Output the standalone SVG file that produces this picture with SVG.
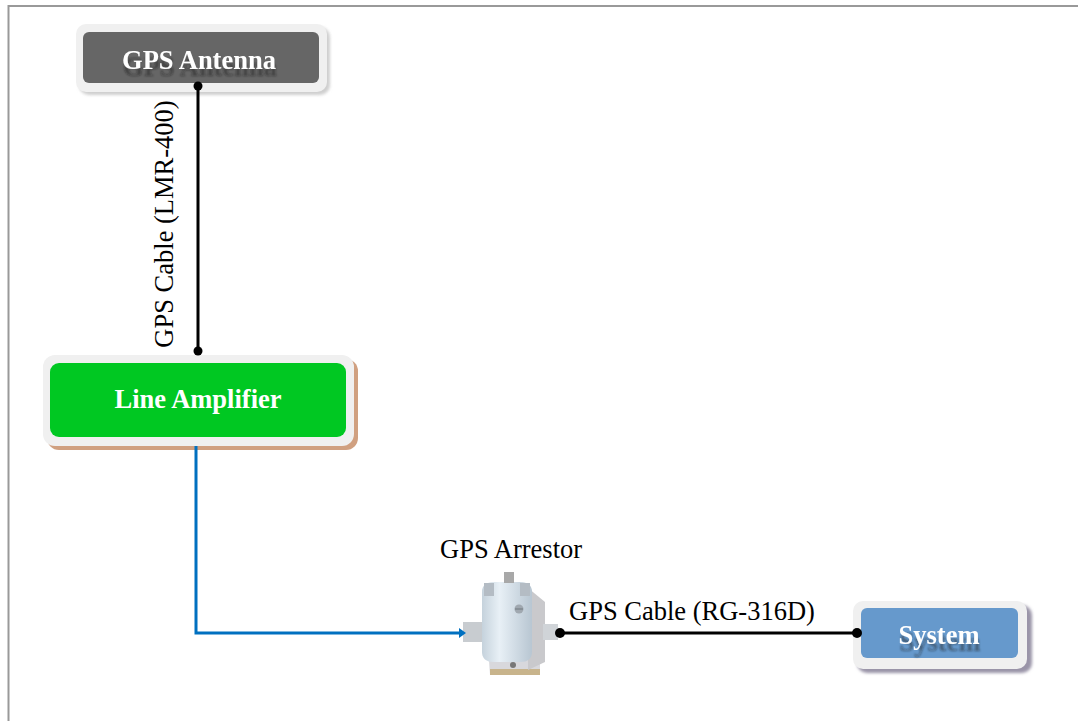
<svg xmlns="http://www.w3.org/2000/svg" width="1078" height="721" viewBox="0 0 1078 721">
  <style>
    .lbl { font-family: "Liberation Serif", serif; font-size: 26.5px; fill: #000; }
    .title { font-family: "Liberation Serif", serif; font-size: 26.5px; font-weight: bold; fill: #fff; text-anchor: middle; }
    .frame { fill: #f0f0f0; }
    .cable { stroke: #000; stroke-width: 3; fill: none; }
    .dot { fill: #000; }
  </style>
  <defs>
    <filter id="soft" x="-10%" y="-10%" width="120%" height="120%">
      <feGaussianBlur stdDeviation="1.5"/>
    </filter>
    <!-- white caption with a blurred dark echo below it -->
    <filter id="echo" x="-10%" y="-30%" width="120%" height="180%">
      <feOffset in="SourceAlpha" dx="1" dy="7" result="off"/>
      <feGaussianBlur in="off" stdDeviation="1.3" result="blur"/>
      <feFlood flood-color="#1a1a1a" flood-opacity="0.45"/>
      <feComposite in2="blur" operator="in" result="shadow"/>
      <feMerge>
        <feMergeNode in="shadow"/>
        <feMergeNode in="SourceGraphic"/>
      </feMerge>
    </filter>
    <linearGradient id="body" x1="0" y1="0" x2="1" y2="0">
      <stop offset="0" stop-color="#c5d2dc"/>
      <stop offset="0.35" stop-color="#e8f0f6"/>
      <stop offset="1" stop-color="#b8c6d2"/>
    </linearGradient>
  </defs>

  <rect width="1078" height="721" fill="#fff"/>
  <!-- page border -->
  <path d="M8.5 721 V6 H1078" fill="none" stroke="#999" stroke-width="2"/>

  <!-- GPS Antenna -->
  <g id="gps-antenna">
    <rect x="79" y="27" width="251" height="68" rx="10" fill="#cfcfcf" filter="url(#soft)"/>
    <rect class="frame" x="76" y="24" width="251" height="68" rx="10"/>
    <rect x="83" y="32" width="236" height="51" rx="6" fill="#666"/>
    <text class="title" x="199" y="69" filter="url(#echo)">GPS Antenna</text>
  </g>

  <!-- Line Amplifier -->
  <g id="line-amplifier">
    <rect x="47" y="359" width="311" height="91" rx="12" fill="#d0a080"/>
    <rect class="frame" x="43" y="355" width="311" height="91" rx="12"/>
    <rect x="50" y="363" width="296" height="74" rx="9" fill="#00c822"/>
    <text class="title" x="198" y="408">Line Amplifier</text>
  </g>

  <!-- GPS Arrestor -->
  <g id="gps-arrestor">
    <text class="lbl" x="440" y="558">GPS Arrestor</text>
    <!-- base plate -->
    <path d="M488 646 L540 646 L540 675 L490 675 Z" fill="#d8d8dc"/>
    <rect x="490" y="669" width="50" height="6" fill="#c8b48c"/>
    <circle cx="513" cy="665" r="3" fill="#777"/>
    <!-- mounting bracket -->
    <path d="M528 588 L545 602 L545 662 L528 670 Z" fill="#c9c9cc"/>
    <!-- side connectors -->
    <rect x="463" y="622" width="22" height="20" fill="#c8ccd0"/>
    <rect x="543" y="624" width="15" height="16" fill="#d0d4d8"/>
    <!-- body -->
    <path d="M482 592 Q482 582 494 582 L520 582 Q532 582 532 592 L532 652 Q532 662 520 662 L494 662 Q482 662 482 652 Z" fill="url(#body)"/>
    <!-- top ears -->
    <rect x="484" y="583" width="10" height="13" fill="#b4bcc4"/>
    <rect x="520" y="583" width="10" height="13" fill="#b4bcc4"/>
    <!-- top bolt -->
    <rect x="504" y="572" width="10" height="11" fill="#a8a8a8"/>
    <circle cx="519" cy="609" r="4.5" fill="#a0a8b0"/>
    <line x1="515" y1="609" x2="523" y2="609" stroke="#70787f" stroke-width="1"/>
  </g>

  <!-- System -->
  <g id="system">
    <rect x="857" y="605" width="175" height="68" rx="10" fill="#9a94a8" filter="url(#soft)"/>
    <rect class="frame" x="853" y="601" width="174" height="68" rx="10"/>
    <rect x="861" y="608" width="157" height="50" rx="6" fill="#6699cc"/>
    <text class="title" x="939" y="644" filter="url(#echo)">System</text>
  </g>

  <!-- connectors -->
  <g id="connectors">
    <line class="cable" x1="198" y1="86" x2="198" y2="351"/>
    <circle class="dot" cx="198" cy="86" r="4.5"/>
    <circle class="dot" cx="198" cy="351" r="4.5"/>
    <text class="lbl" transform="translate(173 224) rotate(-90)" text-anchor="middle">GPS Cable (LMR-400)</text>

    <polyline points="196,446 196,633 460,633" fill="none" stroke="#0070c0" stroke-width="3"/>
    <polygon points="459,628 466,633 459,638" fill="#0070c0"/>

    <line class="cable" x1="560" y1="633" x2="857" y2="633"/>
    <circle class="dot" cx="560" cy="633" r="5"/>
    <circle class="dot" cx="857" cy="633" r="5"/>
    <text class="lbl" x="569" y="620">GPS Cable (RG-316D)</text>
  </g>
</svg>
